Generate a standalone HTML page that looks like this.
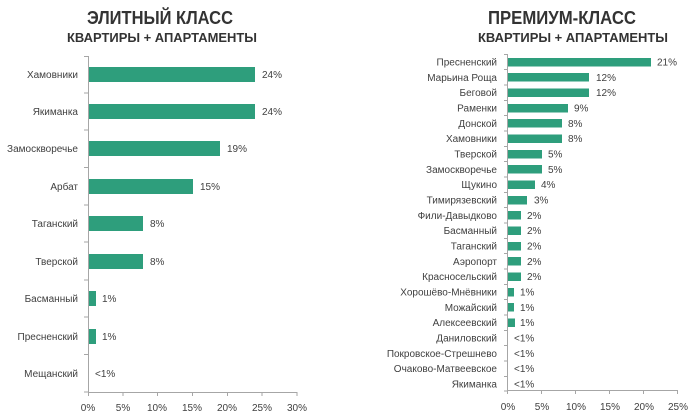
<!DOCTYPE html>
<html><head><meta charset="utf-8"><style>
html,body{margin:0;padding:0;background:#fff;}
svg{display:block;font-family:"Liberation Sans","DejaVu Sans",sans-serif;}
.t{font-size:18px;font-weight:bold;fill:#333;}
.s{font-size:12.5px;font-weight:bold;fill:#333;}
.l{font-size:10px;fill:#404040;}
.b{fill:#2e9e7c;}
.ax{stroke:#a6a6a6;stroke-width:1;fill:none;}
</style></head><body>
<svg width="700" height="416" viewBox="0 0 700 416">
<text class="t" x="160" y="24" text-anchor="middle" textLength="146" lengthAdjust="spacingAndGlyphs">ЭЛИТНЫЙ КЛАСС</text>
<text class="s" x="162" y="42" text-anchor="middle" textLength="190" lengthAdjust="spacingAndGlyphs">КВАРТИРЫ + АПАРТАМЕНТЫ</text>
<text class="t" x="562" y="24" text-anchor="middle" textLength="148" lengthAdjust="spacingAndGlyphs">ПРЕМИУМ-КЛАСС</text>
<text class="s" x="573" y="42" text-anchor="middle" textLength="190" lengthAdjust="spacingAndGlyphs">КВАРТИРЫ + АПАРТАМЕНТЫ</text>

<!-- left chart -->
<path class="ax" d="M88.5 56 V392.5 H297 M84 56.5H88 M84 93H88 M84 130H88 M84 167.5H88 M84 205H88 M84 242H88 M84 280H88 M84 317H88 M84 354.5H88 M84 392H88 M88.5 392V396 M123 392V396 M157.5 392V396 M192.5 392V396 M227.5 392V396 M262 392V396 M297 392V396"/>
<g class="l" text-anchor="end">
<text x="78" y="78">Хамовники</text>
<text x="78" y="115">Якиманка</text>
<text x="78" y="152">Замоскворечье</text>
<text x="78" y="190">Арбат</text>
<text x="78" y="227">Таганский</text>
<text x="78" y="265">Тверской</text>
<text x="78" y="302">Басманный</text>
<text x="78" y="340">Пресненский</text>
<text x="78" y="377">Мещанский</text>
</g>
<rect class="b" x="89" y="67" width="166" height="15"/>
<rect class="b" x="89" y="104" width="166" height="15"/>
<rect class="b" x="89" y="141" width="131" height="15"/>
<rect class="b" x="89" y="179" width="104" height="15"/>
<rect class="b" x="89" y="216" width="54" height="15"/>
<rect class="b" x="89" y="254" width="54" height="15"/>
<rect class="b" x="89" y="291" width="7" height="15"/>
<rect class="b" x="89" y="329" width="7" height="15"/>
<g class="l">
<text x="262" y="78">24%</text>
<text x="262" y="115">24%</text>
<text x="227" y="152">19%</text>
<text x="200" y="190">15%</text>
<text x="150" y="227">8%</text>
<text x="150" y="265">8%</text>
<text x="102" y="302">1%</text>
<text x="102" y="340">1%</text>
<text x="95" y="377">&lt;1%</text>
</g>
<g class="l" text-anchor="middle">
<text x="88" y="411">0%</text><text x="123" y="411">5%</text><text x="157" y="411">10%</text><text x="192" y="411">15%</text><text x="227" y="411">20%</text><text x="262" y="411">25%</text><text x="297" y="411">30%</text>
</g>

<!-- right chart -->
<path class="ax" d="M507.5 54 V390.5 H678 M504 54.5H507 M504 69.5H507 M504 85H507 M504 100.5H507 M504 115.5H507 M504 131H507 M504 146.5H507 M504 161.5H507 M504 177H507 M504 192.5H507 M504 207.5H507 M504 223H507 M504 238.5H507 M504 253.5H507 M504 269H507 M504 284.5H507 M504 299.5H507 M504 315H507 M504 330.5H507 M504 345.5H507 M504 361H507 M504 376.5H507 M504 391H507 M507.5 390V394 M541.5 390V394 M575.5 390V394 M609.5 390V394 M643.5 390V394 M677.5 390V394"/>
<g class="l" text-anchor="end">
<text x="497" y="65.5">Пресненский</text>
<text x="497" y="81">Марьина Роща</text>
<text x="497" y="96">Беговой</text>
<text x="497" y="111.5">Раменки</text>
<text x="497" y="127">Донской</text>
<text x="497" y="142">Хамовники</text>
<text x="497" y="157.5">Тверской</text>
<text x="497" y="173">Замоскворечье</text>
<text x="497" y="188">Щукино</text>
<text x="497" y="203.5">Тимирязевский</text>
<text x="497" y="219">Фили-Давыдково</text>
<text x="497" y="234">Басманный</text>
<text x="497" y="249.5">Таганский</text>
<text x="497" y="265">Аэропорт</text>
<text x="497" y="280">Красносельский</text>
<text x="497" y="295.5">Хорошёво-Мнёвники</text>
<text x="497" y="311">Можайский</text>
<text x="497" y="326">Алексеевский</text>
<text x="497" y="341.5">Даниловский</text>
<text x="497" y="357">Покровское-Стрешнево</text>
<text x="497" y="372">Очаково-Матвеевское</text>
<text x="497" y="387.5">Якиманка</text>
</g>
<g class="b">
<rect x="508" y="58" width="143" height="8.5"/>
<rect x="508" y="73" width="81" height="8.5"/>
<rect x="508" y="88.5" width="81" height="8.5"/>
<rect x="508" y="104" width="60" height="8.5"/>
<rect x="508" y="119" width="54" height="8.5"/>
<rect x="508" y="134.5" width="54" height="8.5"/>
<rect x="508" y="150" width="34" height="8.5"/>
<rect x="508" y="165" width="34" height="8.5"/>
<rect x="508" y="180.5" width="27" height="8.5"/>
<rect x="508" y="196" width="19" height="8.5"/>
<rect x="508" y="211" width="13" height="8.5"/>
<rect x="508" y="226.5" width="13" height="8.5"/>
<rect x="508" y="242" width="13" height="8.5"/>
<rect x="508" y="257" width="13" height="8.5"/>
<rect x="508" y="272.5" width="13" height="8.5"/>
<rect x="508" y="288" width="6" height="8.5"/>
<rect x="508" y="303" width="6" height="8.5"/>
<rect x="508" y="318.5" width="7" height="8.5"/>
</g>
<g class="l">
<text x="657" y="65.5">21%</text>
<text x="596" y="81">12%</text>
<text x="596" y="96">12%</text>
<text x="574" y="111.5">9%</text>
<text x="568" y="127">8%</text>
<text x="568" y="142">8%</text>
<text x="548" y="157.5">5%</text>
<text x="548" y="173">5%</text>
<text x="541" y="188">4%</text>
<text x="534" y="203.5">3%</text>
<text x="527" y="219">2%</text>
<text x="527" y="234">2%</text>
<text x="527" y="249.5">2%</text>
<text x="527" y="265">2%</text>
<text x="527" y="280">2%</text>
<text x="520" y="295.5">1%</text>
<text x="520" y="311">1%</text>
<text x="520" y="326">1%</text>
<text x="514" y="341.5">&lt;1%</text>
<text x="514" y="357">&lt;1%</text>
<text x="514" y="372">&lt;1%</text>
<text x="514" y="387.5">&lt;1%</text>
</g>
<g class="l" text-anchor="middle">
<text x="508" y="410">0%</text><text x="542" y="410">5%</text><text x="576" y="410">10%</text><text x="610" y="410">15%</text><text x="644" y="410">20%</text><text x="678" y="410">25%</text>
</g>
</svg>
</body></html>
